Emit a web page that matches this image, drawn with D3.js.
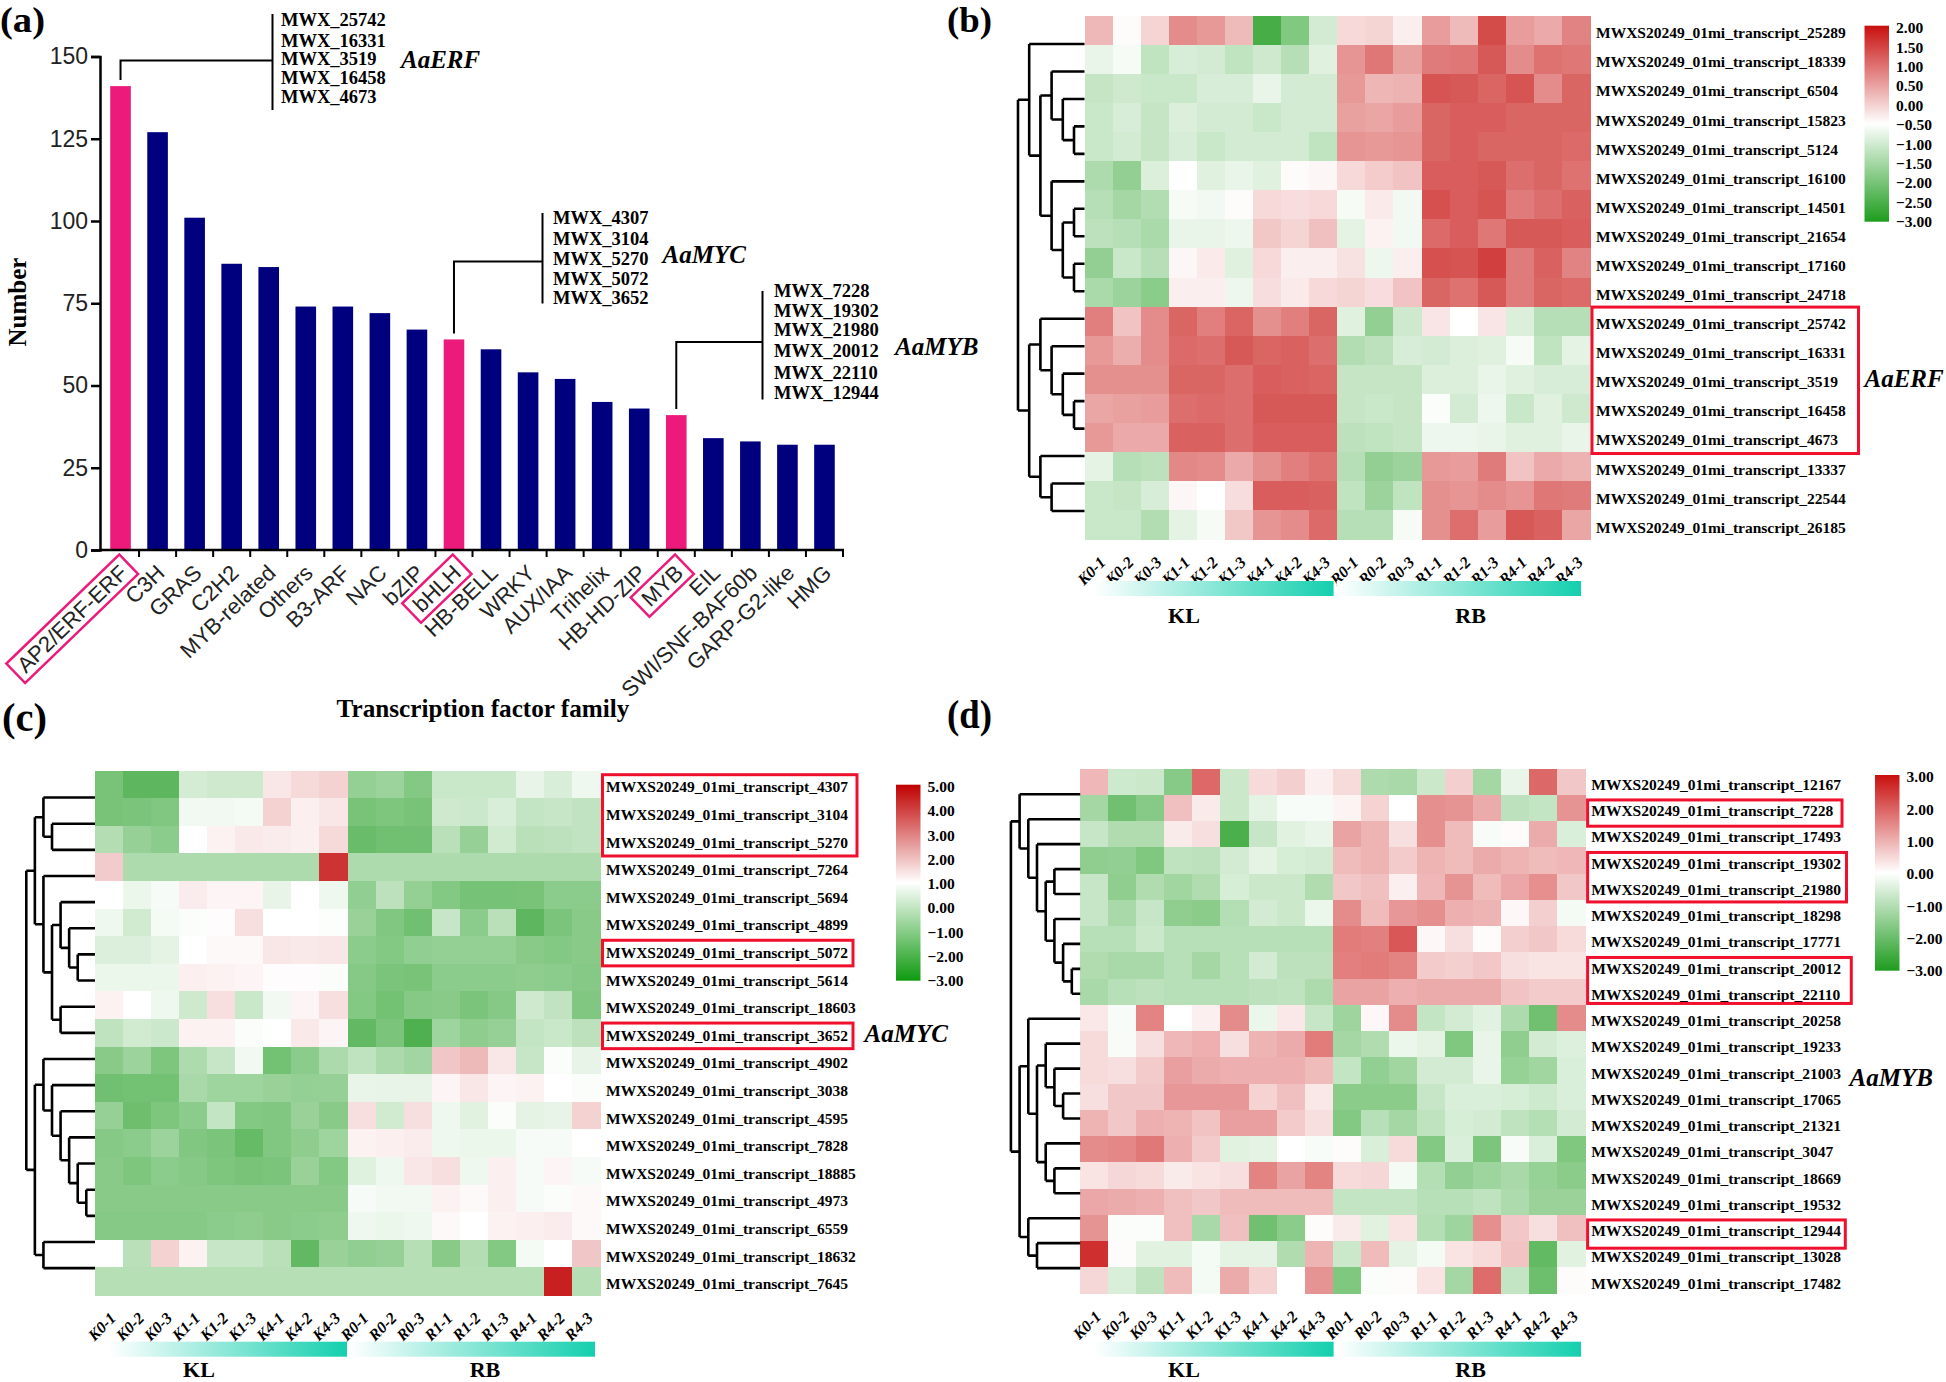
<!DOCTYPE html>
<html>
<head>
<meta charset="utf-8">
<script src="https://cdn.jsdelivr.net/npm/d3@7"></script>
<style>
  body { margin: 0; background: #fff; }
  text { font-family: "Liberation Serif", serif; fill: #000; }
  .sans text, text.sans { font-family: "Liberation Sans", sans-serif; }
</style>
</head>
<body>
<svg id="chart" width="1946" height="1382"></svg>
<script>
// panel (a)
const families = ["AP2/ERF-ERF","C3H","GRAS","C2H2","MYB-related","Others","B3-ARF","NAC","bZIP","bHLH","HB-BELL","WRKY","AUX/IAA","Trihelix","HB-HD-ZIP","MYB","EIL","SWI/SNF-BAF60b","GARP-G2-like","HMG"];
const familyCounts = [141,127,101,87,86,74,74,72,67,64,61,54,52,45,43,41,34,33,32,32];
const highlighted = ["AP2/ERF-ERF","bHLH","MYB"];
const yTicks = [0,25,50,75,100,125,150];
const erfIds = ["MWX_25742","MWX_16331","MWX_3519","MWX_16458","MWX_4673"];
const mycIds = ["MWX_4307","MWX_3104","MWX_5270","MWX_5072","MWX_3652"];
const mybIds = ["MWX_7228","MWX_19302","MWX_21980","MWX_20012","MWX_22110","MWX_12944"];

const samples = ["K0-1","K0-2","K0-3","K1-1","K1-2","K1-3","K4-1","K4-2","K4-3","R0-1","R0-2","R0-3","R1-1","R1-2","R1-3","R4-1","R4-2","R4-3"];
const genePrefix = "MWXS20249_01mi_transcript_";

// panel (b)
const genesB = [25289,18339,6504,15823,5124,16100,14501,21654,17160,24718,25742,16331,3519,16458,4673,13337,22544,26185];
const valuesB = [
  [0.33,-0.45,0,0.85,0.7,0.3,-2.55,-1.9,-1,-0.05,0,-0.3,0.65,0.3,1.6,0.65,0.5,0.95],
  [-0.75,-0.6,-1.2,-0.95,-1,-1.2,-1.05,-1.3,-0.85,0.75,1.1,0.6,1.05,1.1,1.45,0.85,1.15,1.1],
  [-1.15,-1.05,-1.1,-1.1,-0.95,-0.95,-0.75,-1,-1,0.7,0.35,0.4,1.5,1.45,1.3,1.5,0.85,1.3],
  [-1.1,-0.95,-1.15,-0.9,-1,-1,-1.1,-1,-1,0.6,0.55,0.65,1.3,1.4,1.4,1.3,1.3,1.3],
  [-1.1,-1,-1.15,-0.95,-1.1,-1,-1,-1,-1.2,0.75,0.7,0.75,1.3,1.4,1.3,1.3,1.3,1.25],
  [-1.4,-1.7,-0.9,-0.5,-0.85,-0.75,-0.85,-0.45,-0.4,-0.05,0.1,0.2,1.4,1.4,1.45,1.2,1.3,1.15],
  [-1.3,-1.5,-1.35,-0.6,-0.65,-0.45,-0.05,-0.1,-0.05,-0.6,-0.25,-0.65,1.55,1.4,1.5,1.05,1.2,1.35],
  [-1.25,-1.3,-1.45,-0.75,-0.75,-0.7,0.15,0,0.25,-0.8,-0.35,-0.65,1.25,1.4,1.1,1.45,1.45,1.4],
  [-1.7,-1.1,-1.3,-0.4,-0.25,-0.85,-0.05,-0.3,-0.3,-0.15,-0.7,-0.3,1.55,1.5,1.75,1.05,1.35,0.95],
  [-1.45,-1.6,-1.8,-0.3,-0.3,-0.7,-0.1,-0.25,-0.05,0,-0.1,0.2,1.3,1.15,1.45,1.05,1.3,1.25],
  [1,0.2,0.85,1.3,1,1.3,0.8,1,1.3,-0.85,-1.7,-1.05,-0.2,-0.5,-0.2,-0.9,-1.3,-1.3],
  [0.7,0.45,0.85,1.25,1.2,1.45,1.3,1.35,1.2,-1.35,-1.25,-0.95,-1,-0.9,-0.85,-0.6,-1.2,-0.8],
  [0.8,0.8,0.8,1.3,1.3,1.2,1.4,1.35,1.3,-1.15,-1.15,-1.15,-0.9,-0.9,-0.75,-0.85,-0.95,-0.95],
  [0.55,0.6,0.65,1.2,1.25,1.2,1.45,1.45,1.45,-1.15,-1.1,-1.15,-0.55,-1,-0.7,-1.1,-0.85,-1.05],
  [0.7,0.5,0.5,1.35,1.35,1.2,1.4,1.4,1.4,-1.25,-1.2,-1.15,-0.7,-0.7,-0.75,-0.85,-0.85,-0.75],
  [-0.8,-1.3,-1.25,0.9,0.85,0.5,0.8,1,1.15,-1.3,-1.7,-1.6,0.7,0.65,1.05,0.2,0.5,0.4],
  [-1.1,-1.15,-0.95,-0.4,-0.5,-0.1,1.4,1.4,1.35,-1.2,-1.6,-1.2,0.8,0.75,0.85,0.75,1.1,1.05],
  [-1.1,-1.1,-1.35,-0.8,-0.6,0.15,0.75,0.85,1.25,-1.3,-1.3,-0.6,0.8,1.2,0.65,1.45,1.35,0.55]
];
const treeB = [[0,[[1,[2,[3,4]]],[5,[[6,7],[8,9]]]]],[[10,[11,[12,[13,14]]]],[15,[16,17]]]];
const ticksB = [2,1.5,1,0.5,0,-0.5,-1,-1.5,-2,-2.5,-3];

// panel (c)
const genesC = [4307,3104,5270,7264,5694,4899,5072,5614,18603,3652,4902,3038,4595,7828,18885,4973,6559,18632,7645];
const valuesC = [
  [-1.5,-2,-2,0.2,0.1,0.1,1.4,1.6,1.7,-1,-0.85,-1.3,0,0,0,0.55,0.3,0.7],
  [-1.5,-1.45,-1.35,0.75,0.75,0.8,1.7,1.25,1.4,-1.5,-1.4,-1.5,0.1,0.05,0.3,-0.1,-0.05,-0.15],
  [-0.4,-0.95,-1.15,1,1.2,1.35,1.3,1.25,1.6,-1.8,-1.65,-1.65,-0.3,-0.95,0.15,-0.3,-0.25,-0.15],
  [1.8,-0.5,-0.5,-0.5,-0.5,-0.5,-0.5,-0.5,4.2,-0.5,-0.5,-0.5,-0.5,-0.5,-0.5,-0.5,-0.5,-0.5],
  [1,0.65,0.85,1.3,1.15,1.15,0.55,1,0.7,-1.05,-0.25,-1,-1.3,-1.55,-1.55,-1.5,-1.15,-1.15],
  [0.7,0.15,0.8,0.9,1.05,1.5,1,1,0.95,-0.9,-1.35,-1.65,-0.05,-1.15,-0.3,-2,-1.45,-1.2],
  [0.35,0.35,0.5,1,1.1,1.1,1.4,1.35,1.4,-1.15,-1.3,-1.05,-1,-1,-1,-1.2,-1.3,-1.2],
  [0.65,0.65,0.65,1.25,1.2,1.15,1.05,1.05,0.9,-1.25,-1.45,-1.5,-1.15,-1.15,-1.15,-1.1,-1.15,-1.25],
  [1.2,1,0.7,0.1,1.5,0,0.75,1.15,1.5,-1.3,-1.6,-1.25,-1.2,-1.45,-1.25,0.1,-0.15,-1.35],
  [-0.2,0.15,0.05,1.2,1.2,0.9,1,1.35,1.15,-1.9,-1.45,-2.3,-0.8,-1.1,-0.95,-0.1,0,-0.25],
  [-1.2,-0.85,-1.4,-0.5,-0.05,0.75,-1.6,-1.15,-0.55,-0.2,-0.55,-0.75,1.9,2.1,1.4,-0.05,0.9,0.55],
  [-1.65,-1.6,-1.6,-0.6,-0.8,-0.8,-0.9,-1,-0.95,0.6,0.55,0.55,1.15,1.4,1.15,1.2,1,0.9],
  [-0.95,-1.7,-1.4,-1.15,-0.1,-1.3,-1.35,-0.9,-1.2,1.5,0.15,1.5,0.7,0.45,0.9,0.5,0.55,1.7],
  [-1.25,-1.15,-0.85,-1.35,-1.45,-1.85,-1.35,-1.1,-0.8,1.2,1.25,1.3,0.7,0.65,0.65,0.85,0.85,1],
  [-1.2,-1.4,-1.15,-1.25,-1.4,-1.5,-1.45,-0.9,-1.3,0.4,0.7,1.4,1.5,0.7,1.25,0.85,1.15,0.85],
  [-1.2,-1.2,-1.2,-1.2,-1.2,-1.2,-1.2,-1.2,-1.2,0.85,0.75,0.75,1.2,1.1,1.25,0.85,0.9,1.1],
  [-1.25,-1.25,-1.25,-1.25,-1.15,-1.1,-1.2,-1.15,-1.1,0.7,0.65,0.7,1.1,1,1.2,1.25,1.3,1.1],
  [1,-0.3,1.7,1.2,-0.05,-0.05,-0.3,-1.9,-0.9,-1.05,-0.95,-0.35,-1.2,-0.4,-1.3,0.8,1,1.9],
  [-0.35,-0.35,-0.35,-0.35,-0.35,-0.35,-0.35,-0.35,-0.35,-0.35,-0.35,-0.35,-0.35,-0.35,-0.35,-0.35,4.5,-0.35]
];
const treeC = [[[0,[1,2]],[3,[[4,[5,[6,7]]],[8,9]]]],[[10,[11,[12,[13,[14,[15,16]]]]]],[17,18]]];
const ticksC = [5,4,3,2,1,0,-1,-2,-3];

// panel (d)
const genesD = [12167,7228,17493,19302,21980,18298,17771,20012,22110,20258,19233,21003,17065,21321,3047,18669,19532,12944,13028,17482];
const valuesD = [
  [0.9,-0.65,-0.7,-1.6,1.9,-0.7,0.45,0.6,0.2,0.45,-1.1,-1.15,-0.7,0.6,-1.2,-0.3,1.9,0.7],
  [-1.2,-1.9,-1.6,0.8,0.25,-0.7,-0.35,-0.1,-0.1,0.15,0.55,0,1.4,1.35,1.05,-0.9,-0.8,1.35],
  [-0.75,-1.05,-1.05,0.25,0.4,-2.4,-0.75,-0.4,-0.3,1.15,0.95,0.4,1.4,0.85,-0.1,0.05,1.05,-0.5],
  [-1.5,-1.45,-1.7,-0.85,-0.9,-0.6,-0.35,-0.55,-0.6,0.85,0.95,0.65,0.95,0.85,1.05,0.95,0.85,0.9],
  [-0.75,-1.5,-1.05,-1.25,-1.05,-0.55,-0.7,-0.7,-1.05,0.7,0.8,0.2,0.9,1.35,0.85,1.1,1.4,0.7],
  [-0.75,-1.15,-0.75,-1.5,-1.55,-1,-0.6,-0.7,-0.25,1.45,0.85,1.3,1.4,1,0.95,0.1,0.6,-0.15],
  [-0.95,-0.95,-0.7,-0.95,-0.95,-0.95,-0.95,-0.95,-0.95,1.65,1.6,2.1,0.1,0.4,0.05,0.6,0.7,0.45],
  [-1.05,-1.15,-1.15,-0.95,-1.2,-0.95,-0.6,-0.9,-0.9,1.6,1.65,1.55,0.65,0.6,0.7,0.4,0.35,0.35],
  [-1.15,-0.95,-0.9,-0.95,-0.95,-0.95,-0.9,-0.85,-1.1,1.15,1.15,1,1.05,1.05,1.05,0.75,0.65,0.65],
  [0.3,-0.1,1.55,0,0.2,1.45,-0.25,0.3,-0.75,-1.3,0.1,1.45,-0.8,-0.6,-0.4,-1.1,-1.9,1.45],
  [0.45,-0.1,0.4,0.9,1,0.4,0.95,1.05,1.65,-1.2,-1.05,-0.25,-0.35,-1.7,-0.3,-1.5,-0.6,-0.45],
  [0.45,0.4,0.65,1.2,1.05,1,1,1,0.85,-0.8,-1.45,-1.25,-0.6,-0.6,-0.3,-1.4,-1.25,-0.5],
  [0.4,0.7,0.7,1.3,1.3,1.3,0.55,0.8,0.3,-1.55,-1.55,-1.55,-0.75,-0.5,-0.5,-0.55,-0.65,-0.5],
  [0.95,0.7,1,0.95,0.75,1.2,1.2,0.65,0.4,-1.65,-0.95,-1.2,-0.85,-0.55,-0.6,-0.85,-1,-0.6],
  [1.45,1.5,1.7,1,0.65,-0.4,-0.35,0,-0.1,0.05,-0.5,0.45,-1.65,-0.5,-1.75,-0.1,-0.5,-1.7],
  [0.35,0.5,0.45,0.25,0.35,0.4,1.55,1.15,1.55,0.45,0.5,-0.15,-1,-1.45,-1.3,-1.15,-1.4,-1.55],
  [1.1,1.05,1,0.8,0.7,0.85,0.85,0.85,0.85,-0.8,-0.8,-0.8,-0.95,-0.95,-0.85,-1.1,-1.35,-1.35],
  [1.35,-0.05,-0.05,0.8,-1.15,0.8,-1.9,-1.55,0.05,0.25,-0.4,0.35,-1,-1.3,1.4,0.7,0.4,0.8],
  [2.6,0.05,-0.4,-0.4,-0.15,-0.35,-0.35,-1.05,0.95,-0.7,0.85,-0.35,-0.15,0.35,0.45,0.75,-2.1,-0.4],
  [0.5,-0.5,-0.85,0.85,-0.15,1.05,0.55,0,1.35,-1.7,-0.05,0.05,0.35,-1.2,1.85,-0.8,-1.95,0.05]
];
const treeD = [[0,[1,[2,[[3,4],[5,[6,[7,8]]]]]]],[[9,[[10,[11,[12,13]]],[14,[15,16]]]],[17,[18,19]]]];
const ticksD = [3,2,1,0,-1,-2,-3];

const svg = d3.select("#chart");
const pink = "#ec1a7a", navy = "#00007f", boxRed = "#f0102e";

function label(x, y, txt, size, opts) {
  opts = opts || {};
  return svg.append("text").attr("x", x).attr("y", y).text(txt)
    .attr("font-size", size)
    .attr("font-weight", opts.weight || "bold")
    .attr("font-style", opts.style || "normal")
    .attr("text-anchor", opts.anchor || "start");
}

// ---- bars
function drawBars() {
  const x = d3.scaleBand().domain(families).range([102, 843]).paddingInner(0.444).paddingOuter(0.222);
  const y = d3.scaleLinear().domain([0, 150]).range([550, 56.5]);

  svg.append("g").selectAll("rect").data(families).join("rect")
    .attr("x", d => x(d))
    .attr("width", x.bandwidth())
    .attr("y", (d, i) => y(familyCounts[i]))
    .attr("height", (d, i) => y(0) - y(familyCounts[i]))
    .attr("fill", d => highlighted.includes(d) ? pink : navy);

  const yAxis = svg.append("g").attr("class", "sans").attr("transform", "translate(100,0)")
    .call(d3.axisLeft(y).tickValues(yTicks).tickSize(9).tickPadding(3));
  yAxis.selectAll("text").attr("font-size", 23).style("fill", "#222");
  yAxis.selectAll("line,path").attr("stroke", "#000").attr("stroke-width", 2.5);

  const xAxis = svg.append("g").attr("class", "sans").attr("transform", "translate(0,550)")
    .call(d3.axisBottom(x).tickSize(0).tickPadding(0));
  xAxis.select("path").attr("stroke", "#000").attr("stroke-width", 2.5).attr("d", "M100,0H844");

  // ticks sit between the bars
  xAxis.selectAll(".tick line").attr("y2", 7).attr("x1", x.step() / 2).attr("x2", x.step() / 2)
    .attr("stroke", "#000").attr("stroke-width", 2);

  const rot = "translate(3,19) rotate(-44)";
  xAxis.selectAll(".tick text")
    .attr("font-size", 22).attr("text-anchor", "end")
    .attr("x", 0).attr("y", 0).attr("dy", "0.35em")
    .style("fill", "#222")
    .attr("transform", rot);
  xAxis.selectAll(".tick").filter(d => highlighted.includes(d)).each(function () {
    const g = d3.select(this), b = g.select("text").node().getBBox();
    g.append("rect").attr("x", b.x - 7).attr("y", b.y - 1).attr("width", b.width + 14).attr("height", b.height + 2)
      .attr("fill", "none").attr("stroke", pink).attr("stroke-width", 2.5).attr("transform", rot);
  });

  label(26, 302, "Number", 25, { anchor: "middle" }).attr("transform", "rotate(-90 26 302)");
  label(483, 717, "Transcription factor family", 25.2, { anchor: "middle" });

  // bracket callouts
  const callouts = [
    { fam: "AP2/ERF-ERF", ids: erfIds, name: "AaERF", elbow: 60.5, stem: 272.5, y0: 14, y1: 110, tx: 281, ys: [25.6,46.5,65,84,103], nx: 401, ny: 67.5 },
    { fam: "bHLH", ids: mycIds, name: "AaMYC", elbow: 261.6, stem: 542.5, y0: 213, y1: 303.5, tx: 553, ys: [223.5,245.3,265.4,285,304], nx: 662.5, ny: 263 },
    { fam: "MYB", ids: mybIds, name: "AaMYB", elbow: 342, stem: 762.5, y0: 291, y1: 399.4, tx: 774, ys: [296.5,316.6,336,357,379.4,399.4], nx: 895, ny: 354.7 }
  ];
  callouts.forEach(c => {
    const cx = x(c.fam) + x.bandwidth() / 2;
    const top = y(familyCounts[families.indexOf(c.fam)]) - 6;
    svg.append("path").attr("fill", "none").attr("stroke", "#000").attr("stroke-width", 2)
      .attr("d", `M${cx},${top}V${c.elbow}H${c.stem}M${c.stem},${c.y0}V${c.y1}`);
    c.ids.forEach((id, i) => label(c.tx, c.ys[i], id, 18.5));
    label(c.nx, c.ny, c.name, 25, { style: "italic" });
  });
}

// ---- heatmap panels
function drawHeatmap(p) {
  const x = d3.scaleBand().domain(samples).range([p.left, p.right]);
  const y = d3.scaleBand().domain(p.genes).range([p.top, p.bottom]);
  const color = d3.scaleLinear().domain(p.domain).range([p.cellLow || p.low, "#ffffff", p.cellHigh || p.high]);
  const g = svg.append("g");

  // cells
  p.genes.forEach((gene, r) => {
    g.append("g").selectAll("rect").data(p.values[r]).join("rect")
      .attr("x", (d, c) => x(samples[c]))
      .attr("y", y(gene))
      .attr("width", x.bandwidth() + 0.5)
      .attr("height", y.bandwidth() + 0.5)
      .attr("fill", d => color(d))
      .attr("shape-rendering", "crispEdges");
  });

  // row labels
  g.append("g").selectAll("text").data(p.genes).join("text")
    .attr("x", p.labelX)
    .attr("y", d => y(d) + y.bandwidth() / 2 + 8)
    .attr("font-size", 15.5).attr("font-weight", "bold")
    .text(d => genePrefix + d);

  // sample labels
  g.append("g").selectAll("text").data(samples).join("text")
    .attr("font-size", 16).attr("font-weight", "bold").attr("font-style", "italic")
    .attr("text-anchor", "end")
    .attr("transform", d => `translate(${x(d) + x.bandwidth() / 2 + 8},${p.bottom + 24}) rotate(-45)`)
    .text(d => d);

  // faint tick stubs under the sample labels
  if (p.stubY) {
    g.append("g").selectAll("rect").data(samples).join("rect")
      .attr("x", d => x(d) + x.bandwidth() / 2 - 9)
      .attr("y", p.stubY).attr("width", 1).attr("height", 2)
      .attr("fill", (d, i) => i < 9 ? "#bbb" : "#e4e4e4");
  }

  // dendrogram
  const root = d3.hierarchy(p.tree, d => Array.isArray(d) ? d : null);
  const cluster = d3.cluster().separation(() => 1).size([y.step() * (p.genes.length - 1), 1]);
  cluster(root);
  const ry = d => d.x + p.top + y.step() / 2;
  const rx = d => d.children ? p.treeX + d.depth * p.treeStep : p.left;
  root.descendants().forEach(n => {
    if (!n.children) return;
    const kids = n.children;
    g.append("path").attr("fill", "none").attr("stroke", "#000").attr("stroke-width", 2.6)
      .attr("d", `M${rx(n)},${ry(kids[0])}V${ry(kids[1])}` + kids.map(k => `M${rx(n)},${ry(k)}H${rx(k)}`).join(""));
  });

  // group bars
  const gid = "grad" + p.id;
  const defs = svg.append("defs");
  const teal = defs.append("linearGradient").attr("id", gid);
  teal.append("stop").attr("offset", 0).attr("stop-color", "#fff");
  teal.append("stop").attr("offset", 1).attr("stop-color", "#14cfae");
  p.groups.forEach(b => {
    g.append("rect").attr("x", b.x0).attr("y", p.barY).attr("width", b.x1 - b.x0).attr("height", 15)
      .attr("fill", `url(#${gid})`);
    label(b.cx, p.groupY, b.name, 22, { anchor: "middle" });
  });

  // red boxes
  p.boxes.forEach(b => {
    g.append("rect")
      .attr("x", p.boxX).attr("width", b.right - p.boxX)
      .attr("y", y(p.genes[b.from]) + p.boxDy)
      .attr("height", y.step() * (b.to - b.from + 1) + b.dh)
      .attr("fill", "none").attr("stroke", boxRed).attr("stroke-width", 3);
  });
  label(p.nameX, p.nameY, p.name, 25, { style: "italic" });

  // colour bar
  const c = d3.scaleLinear().domain([p.ticks[0], p.ticks[p.ticks.length - 1]]).range([p.cbTop, p.cbBottom]);
  const grad = defs.append("linearGradient").attr("id", "cb" + p.id).attr("x1", 0).attr("x2", 0).attr("y1", 0).attr("y2", 1);
  const lo = p.domain[0], hi = p.domain[2], mid = p.domain[1];
  [[hi, p.high], [mid, "#ffffff"], [lo, p.low]].forEach(s => {
    grad.append("stop").attr("offset", (hi - s[0]) / (hi - lo)).attr("stop-color", s[1]);
  });
  g.append("rect").attr("x", p.cbX).attr("y", p.cbTop - 2).attr("width", 24.5).attr("height", p.cbBottom - p.cbTop + 2)
    .attr("fill", `url(#cb${p.id})`);
  const ax = g.append("g").attr("transform", `translate(${p.cbX + 24.5},0)`)
    .call(d3.axisRight(c).tickValues(p.ticks).tickSize(0).tickPadding(7).tickFormat(d3.format(".2f")));
  ax.select("path").remove();
  ax.selectAll("text").attr("font-size", 15.5).attr("font-weight", "bold");
}

drawBars();

drawHeatmap({
  id: "b", genes: genesB, values: valuesB, tree: treeB, ticks: ticksB, domain: [-3, -0.5, 2],
  low: "#1e9c1e", high: "#c8100f", cellHigh: "#cc2a28",
  left: 1084.5, right: 1590, top: 15.7, bottom: 539.3, labelX: 1596,
  treeX: 1018, treeStep: 11.2,
  barY: 581, groupY: 622.7,
  groups: [{ name: "KL", x0: 1093.5, x1: 1333.6, cx: 1184 }, { name: "RB", x0: 1336.6, x1: 1581, cx: 1470.6 }],
  boxX: 1592, boxDy: 0.5, boxes: [{ from: 10, to: 14, right: 1858.5, dh: 1 }],
  name: "AaERF", nameX: 1864.5, nameY: 387,
  cbX: 1864.5, cbTop: 27.7, cbBottom: 221.7
});

drawHeatmap({
  id: "c", genes: genesC, values: valuesC, tree: treeC, ticks: ticksC, domain: [-3, 1, 5],
  low: "#0f9a0f", high: "#c00000", cellLow: "#289f28",
  left: 95, right: 600, top: 770.7, bottom: 1295, labelX: 606,
  treeX: 26.3, treeStep: 8.57,
  barY: 1341.7, groupY: 1377, stubY: 1335,
  groups: [{ name: "KL", x0: 109, x1: 347, cx: 199 }, { name: "RB", x0: 349, x1: 595, cx: 485 }],
  boxX: 602.5, boxDy: 4, boxes: [
    { from: 0, to: 2, right: 857, dh: -1.5 },
    { from: 6, to: 6, right: 853, dh: -2 },
    { from: 9, to: 9, right: 853, dh: -2 }
  ],
  name: "AaMYC", nameX: 864.5, nameY: 1041.7,
  cbX: 896, cbTop: 786.7, cbBottom: 980.7
});

drawHeatmap({
  id: "d", genes: genesD, values: valuesD, tree: treeD, ticks: ticksD, domain: [-3, 0, 3],
  low: "#1e9c1e", high: "#c8100f",
  left: 1080.2, right: 1585.2, top: 768.7, bottom: 1293.7, labelX: 1591.3,
  treeX: 1010.9, treeStep: 8.7,
  barY: 1341.7, groupY: 1377, stubY: 1335,
  groups: [{ name: "KL", x0: 1093.5, x1: 1333.6, cx: 1184 }, { name: "RB", x0: 1336.6, x1: 1581, cx: 1470.6 }],
  boxX: 1587.6, boxDy: 5, boxes: [
    { from: 1, to: 1, right: 1842, dh: 0 },
    { from: 3, to: 4, right: 1846.5, dh: -3 },
    { from: 7, to: 8, right: 1851.3, dh: -6.5 },
    { from: 17, to: 17, right: 1845.3, dh: 2 }
  ],
  name: "AaMYB", nameX: 1849.5, nameY: 1085.7,
  cbX: 1875, cbTop: 777, cbBottom: 970.7
});

// panel letters: the top two are squeezed a little so they stay on the page
[["(a)", 0, 32, 36], ["(b)", 947, 32, 36], ["(c)", 2, 731, 40], ["(d)", 947, 728, 40]].forEach(d => {
  label(d[1], d[2], d[0], d[3]).attr("textLength", 45).attr("lengthAdjust", "spacingAndGlyphs");
});
</script>
</body>
</html>
